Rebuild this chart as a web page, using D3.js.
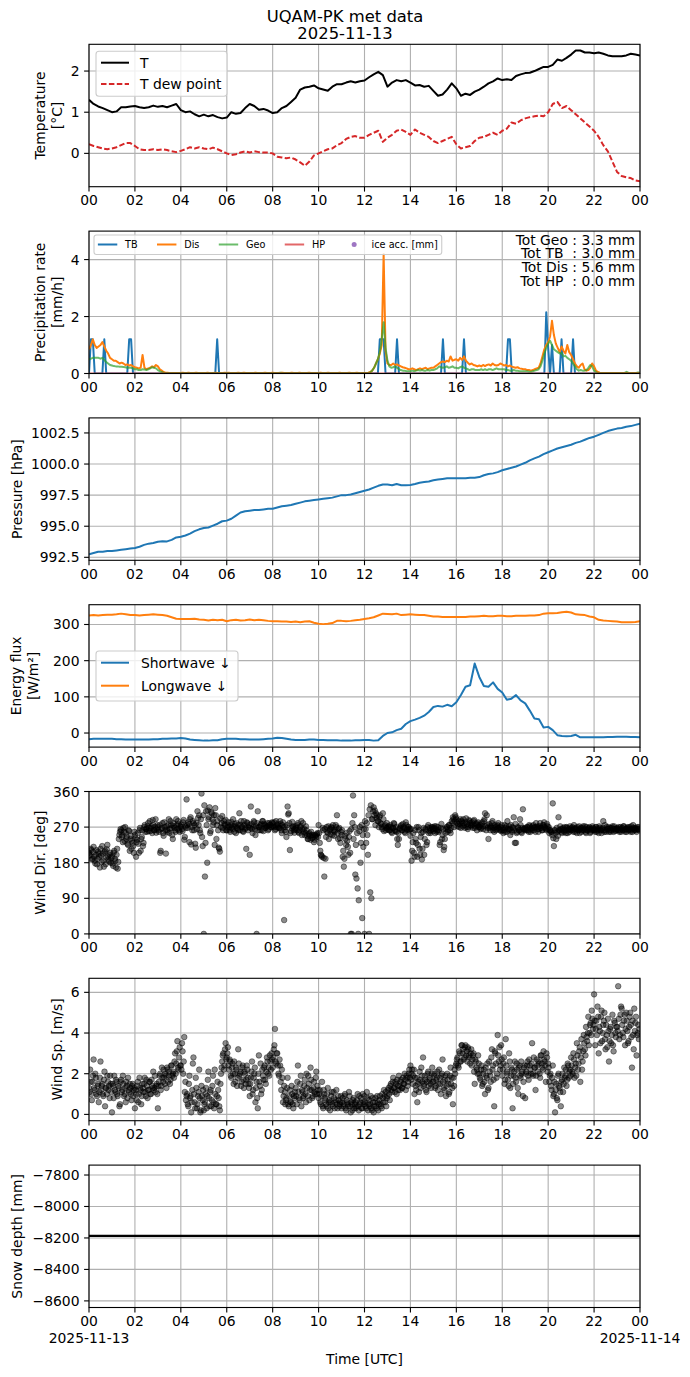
<!DOCTYPE html>
<html lang="en">
<head>
<meta charset="utf-8" />
<title>UQAM-PK met data</title>
<script src="https://cdn.jsdelivr.net/npm/d3@7"></script>
<style>
  body { margin: 0; background: white; }
  svg text { font-family: "DejaVu Sans", sans-serif; fill: black; }
</style>
</head>
<body>
<script>
// ---- data ----
// 12-minute series: temperature, dew point, pressure, radiation
var tempC = [1.30,1.20,1.14,1.10,1.05,1.00,1.02,1.12,1.12,1.14,
  1.15,1.12,1.10,1.12,1.16,1.13,1.15,1.12,1.16,1.20,
  1.05,1.00,1.02,0.95,0.90,0.94,0.90,0.93,0.88,0.85,
  0.87,1.00,0.96,0.98,1.10,1.20,1.15,1.06,1.08,1.04,
  0.98,1.00,1.10,1.15,1.25,1.35,1.55,1.60,1.62,1.65,
  1.58,1.55,1.52,1.62,1.68,1.68,1.72,1.75,1.72,1.75,
  1.77,1.85,1.92,1.98,1.90,1.62,1.72,1.78,1.75,1.78,
  1.72,1.65,1.66,1.62,1.64,1.52,1.40,1.43,1.55,1.70,
  1.58,1.40,1.45,1.42,1.50,1.55,1.62,1.70,1.75,1.82,
  1.78,1.80,1.78,1.88,1.92,1.95,1.96,2.00,2.05,2.10,
  2.10,2.15,2.28,2.25,2.32,2.40,2.50,2.50,2.45,2.45,
  2.43,2.45,2.42,2.38,2.36,2.36,2.36,2.38,2.42,2.40,2.38];
var dewC = [0.22,0.18,0.15,0.12,0.10,0.12,0.15,0.20,0.25,0.25,
  0.18,0.10,0.08,0.08,0.10,0.08,0.10,0.08,0.05,0.03,
  0.06,0.10,0.15,0.12,0.15,0.12,0.10,0.14,0.10,0.05,
  0.00,-0.04,-0.02,0.02,0.05,0.02,0.05,0.03,0.02,0.02,
  0.00,-0.08,-0.10,-0.12,-0.10,-0.15,-0.22,-0.30,-0.20,-0.05,
  0.00,0.05,0.10,0.12,0.20,0.25,0.35,0.40,0.42,0.38,
  0.38,0.45,0.50,0.55,0.28,0.38,0.45,0.55,0.58,0.52,
  0.45,0.58,0.50,0.45,0.40,0.30,0.25,0.30,0.35,0.40,
  0.22,0.12,0.15,0.18,0.30,0.38,0.40,0.45,0.50,0.45,
  0.55,0.60,0.75,0.72,0.80,0.85,0.88,0.90,0.92,0.90,
  1.00,1.20,1.25,1.10,1.15,1.05,0.95,0.85,0.75,0.65,
  0.55,0.40,0.20,0.05,-0.20,-0.45,-0.55,-0.58,-0.60,-0.66,-0.68];
var pressHpa = [992.75,992.85,992.95,992.95,993.0,993.0,993.05,993.1,993.15,993.2,
  993.25,993.35,993.5,993.6,993.65,993.75,993.8,993.78,993.9,994.1,
  994.15,994.25,994.4,994.6,994.75,994.85,994.9,995.05,995.2,995.4,
  995.45,995.6,995.85,996.1,996.2,996.25,996.3,996.3,996.35,996.4,
  996.4,996.5,996.6,996.65,996.7,996.8,996.9,997.0,997.05,997.1,
  997.15,997.2,997.25,997.3,997.4,997.5,997.5,997.55,997.65,997.75,
  997.85,997.95,998.1,998.25,998.35,998.35,998.3,998.4,998.3,998.3,
  998.32,998.4,998.5,998.55,998.6,998.7,998.75,998.8,998.85,998.85,
  998.85,998.85,998.85,998.9,998.9,998.95,999.1,999.2,999.25,999.35,
  999.5,999.6,999.7,999.8,999.95,1000.1,1000.3,1000.45,1000.6,1000.8,
  1000.95,1001.1,1001.25,1001.35,1001.45,1001.55,1001.7,1001.8,1001.95,1002.1,
  1002.2,1002.35,1002.5,1002.65,1002.75,1002.85,1002.9,1003.0,1003.05,1003.15,1003.25];
var swDown = [-17,-16,-16,-16,-16,-16,-17,-17,-18,-18,
  -18,-18,-18,-18,-17,-17,-16,-16,-15,-15,
  -14,-15,-18,-19,-20,-21,-21,-20,-20,-17,
  -16,-16,-16,-17,-17,-18,-18,-18,-17,-16,
  -15,-13,-14,-16,-18,-19,-19,-19,-18,-18,
  -19,-19,-20,-20,-20,-21,-21,-21,-20,-20,
  -19,-19,-21,-20,-8,0,2,8,12,25,
  33,37,42,48,58,72,75,73,78,74,
  85,105,128,132,192,155,130,128,140,122,
  112,92,95,105,90,82,62,40,38,15,
  17,8,-6,-8,-9,-8,-5,-12,-12,-12,
  -12,-12,-12,-11,-11,-10,-10,-10,-11,-11,-12];
var lwDown = [325,326,325,326,327,327,328,330,328,326,
  326,325,326,327,328,327,326,324,320,316,
  315,315,315,316,314,313,311,313,312,313,
  309,312,313,311,312,314,312,313,312,310,
  309,309,308,308,307,308,306,308,309,305,
  302,301,302,304,310,310,309,310,312,313,
  315,317,320,325,330,329,328,330,326,327,
  328,327,326,326,324,322,322,321,321,321,
  321,321,321,322,322,323,324,323,323,324,
  324,323,323,324,324,324,325,325,326,330,
  331,331,332,334,335,333,328,327,326,322,
  320,313,311,310,309,308,306,306,306,307,309];

// 5-minute precipitation rates [mm/h]
var tbRate = [0,1.2,1.2,0,0,0,0,0,1.2,0,0,0,
  0,0,0,0,0,0,0,0,0,1.2,1.2,0,
  0,0,0,0,0,0,0,0,0,0,0,0,
  0,0,0,0,0,0,0,0,0,0,0,0,
  0,0,0,0,0,0,0,0,0,0,0,0,
  0,0,0,0,0,0,0,1.2,0,0,0,0,
  0,0,0,0,0,0,0,0,0,0,0,0,
  0,0,0,0,0,0,0,0,0,0,0,0,
  0,0,0,0,0,0,0,0,0,0,0,0,
  0,0,0,0,0,0,0,0,0,0,0,0,
  0,0,0,0,0,0,0,0,0,0,0,0,
  0,0,0,0,0,0,0,0,0,0,0,0,
  0,0,0,0,0,0,0,0,1.2,1.2,1.2,0,
  0,0,0,0,0,1.2,0,0,0,0,0,0,
  0,0,0,0,0,0,0,0,0,0,0,0,
  0,0,0,0,0,1.2,0,0,0,0,0,0,
  0,0,0,0,1.2,0,0,0,0,0,0,0,
  0,0,0,0,0,0,0,0,0,0,0,0,
  0,0,0,1.2,1.2,0,0,0,0,0,0,0,
  0,0,0,0,0,0,0,0,0,0,0,2.15,
  0.9,0,1.0,0,0,0,0,1.2,0,0,0,0,
  0,1.2,0,0,0,0,0,0,0,0,0,0,
  0,0,0,0,0,0,0,0,0,0,0,0,
  0,0,0,0,0,0,0,0,0,0,0,0,0];
var disRate = [.85,1.0,1.2,1.0,.9,.95,1.0,1.1,.95,.8,.7,.55,
  .5,.45,.45,.4,.35,.38,.35,.3,.32,.28,.3,.25,
  .22,.2,.18,.2,.65,.2,.15,.18,.2,.25,.22,.3,
  .25,.15,.1,.05,.03,.03,.02,.02,.02,.02,.02,.02,
  .02,.03,.02,.02,.03,.02,.02,.02,.03,.02,.02,.02,
  .02,.02,.03,.02,.02,.02,.03,.02,.02,.02,.02,.03,
  .02,.03,.02,.02,.02,.02,.03,.02,.02,.03,.02,.02,
  .02,.02,.02,.03,.02,.02,.02,.02,.03,.02,.02,.02,
  .03,.02,.02,.02,.02,.03,.02,.02,.02,.02,.03,.02,
  .02,.02,.03,.02,.02,.02,.02,.03,.02,.02,.02,.02,
  .02,.03,.02,.02,.02,.03,.02,.02,.02,.02,.02,.03,
  .02,.02,.02,.02,.03,.02,.02,.02,.03,.02,.02,.02,
  .02,.02,.03,.05,.1,.2,.35,.5,.7,1.0,4.2,.8,
  .35,.3,.3,.35,.3,.32,.28,.25,.22,.2,.18,.15,
  .15,.18,.15,.12,.15,.18,.15,.18,.2,.15,.18,.2,
  .2,.25,.3,.35,.4,.42,.4,.45,.42,.6,.45,.48,
  .5,.45,.55,.48,.6,.45,.38,.32,.35,.3,.28,.25,
  .28,.25,.3,.26,.3,.32,.28,.35,.3,.28,.3,.35,
  .32,.28,.3,.25,.28,.24,.22,.2,.22,.18,.17,.15,
  .15,.12,.12,.1,.12,.15,.18,.2,.35,.6,.85,1.0,
  1.1,1.3,1.85,1.35,1.05,.9,.75,.95,.8,.7,1.0,.75,
  .65,.5,.35,.25,.2,.3,.35,.15,.1,.12,.2,.35,
  .25,.1,.05,.03,.02,.02,.02,.02,.02,.02,.02,.02,
  .02,.02,.02,.02,.02,.02,.02,.02,.02,.02,.02,.02,.02];
var geoRate = [.5,.52,.55,.55,.55,.55,.52,.55,.48,.4,.35,.3,
  .28,.26,.25,.25,.24,.24,.23,.22,.2,.2,.2,.18,
  .15,.15,.12,.12,.15,.14,.12,.15,.18,.22,.2,.18,
  .12,.08,.05,.03,.02,.02,.02,.02,.02,.02,.02,.02,
  .02,.02,.02,.02,.02,.02,.02,.02,.02,.02,.02,.02,
  .02,.02,.02,.02,.02,.02,.02,.02,.02,.02,.02,.02,
  .02,.02,.02,.02,.02,.02,.02,.02,.02,.02,.02,.02,
  .02,.02,.02,.02,.02,.02,.02,.02,.02,.02,.02,.02,
  .02,.02,.02,.02,.03,.02,.02,.02,.02,.02,.02,.02,
  .02,.02,.02,.02,.02,.02,.02,.02,.02,.02,.02,.02,
  .02,.02,.02,.02,.02,.02,.02,.02,.02,.02,.02,.02,
  .02,.02,.02,.02,.02,.02,.02,.02,.02,.02,.02,.02,
  .02,.02,.02,.04,.1,.2,.35,.5,.75,1.2,1.8,.9,
  .45,.25,.2,.22,.25,.2,.15,.12,.1,.1,.08,.08,
  .08,.1,.08,.1,.12,.1,.12,.1,.1,.12,.1,.12,
  .12,.15,.18,.25,.22,.2,.22,.25,.2,.22,.25,.2,
  .2,.18,.22,.25,.2,.18,.15,.12,.15,.15,.12,.12,
  .12,.15,.12,.15,.12,.15,.15,.12,.15,.18,.15,.15,
  .15,.15,.12,.12,.1,.1,.12,.1,.1,.08,.08,.08,
  .08,.08,.06,.06,.08,.1,.12,.15,.25,.45,.7,.9,
  1.05,1.15,1.0,.85,.8,.75,.7,.72,.6,.62,.55,.5,
  .45,.35,.25,.15,.1,.12,.1,.1,.12,.2,.3,.25,
  .1,.05,.02,.02,.02,.02,.02,.02,.02,.02,.02,.02,
  .02,.02,.02,.02,.02,.06,.02,.02,.02,.02,.02,.04,.02];
var hpHours = [0, 24];
var hpRate = [0, 0];
var precipTotals = ["Tot Geo : 3.3 mm", "Tot TB  : 3.0 mm", "Tot Dis : 5.6 mm", "Tot HP  : 0.0 mm"];

// wind observations, 3-minute samples on the hour grid ...
var windDir = [205,198,212,190,220,185,200,176,208,195,215,182,203,170,210,193,225,188,200,180,
  196,172,210,185,200,165,240,258,262,250,268,235,255,245,225,260,240,215,230,205,
  250,195,238,228,262,210,245,222,270,258,265,272,260,285,268,255,275,262,290,265,
  270,258,205,265,280,248,270,203,262,275,255,285,268,240,272,262,290,266,278,258,
  270,265,282,238,272,340,268,278,290,226,262,280,275,218,265,293,300,255,355,222,
  0,145,310,180,290,320,260,305,275,300,318,240,285,218,208,270,298,262,278,288,
  262,275,270,258,283,265,272,278,255,268,262,305,276,270,260,285,265,215,280,270,
  200,322,265,270,282,250,0,310,270,262,278,285,260,275,268,272,262,280,275,270,
  280,270,262,285,275,270,268,278,255,282,35,270,245,322,305,212,260,283,270,256,
  272,262,280,255,270,285,265,258,250,272,248,240,255,238,250,245,232,250,244,255,
  275,230,200,195,262,145,190,270,255,240,265,270,250,262,258,275,300,240,268,230,
  250,195,170,248,225,235,200,260,0,0,350,300,150,140,115,85,270,230,40,220,
  0,265,280,200,0,105,90,290,320,312,305,300,285,295,280,270,305,260,275,268,
  265,272,262,270,255,268,278,260,258,225,240,268,275,262,270,258,282,265,270,262,
  248,185,232,205,262,230,195,270,215,245,188,258,200,265,225,270,255,268,262,270,
  260,272,265,258,270,262,232,278,250,212,240,265,270,262,275,255,285,295,270,300,
  290,272,285,278,268,282,290,275,283,270,265,288,280,272,276,285,268,278,262,282,
  270,265,278,272,285,305,262,275,240,268,272,280,262,258,270,265,275,268,262,260,
  262,255,275,268,258,265,272,250,262,270,295,230,230,258,268,262,275,255,315,265,
  268,262,270,258,272,265,262,275,268,258,270,272,265,280,268,262,275,270,265,278,
  265,255,262,258,330,222,262,240,258,295,262,265,255,268,258,262,270,255,265,272,
  262,270,258,265,268,255,262,272,265,258,268,262,272,255,262,265,270,258,262,268,
  265,258,270,262,255,268,262,265,285,258,262,270,265,258,268,262,272,258,265,262,
  268,262,258,270,265,262,272,258,265,268,262,270,258,265,275,262,268,258,265,270];
var windSpd = [1.3,2.2,1.0,1.6,2.7,1.2,1.8,0.9,1.5,1.1,2.6,1.4,1.0,1.7,0.4,1.3,1.9,1.2,0.8,1.5,
  0.1,1.4,1.9,1.1,1.6,0.9,1.3,0.5,1.7,1.2,1.5,1.0,0.6,1.4,1.8,1.1,1.3,0.7,1.5,1.2,
  0.3,1.0,1.4,0.6,1.8,1.2,0.9,1.3,1.5,1.1,1.7,0.8,1.2,1.6,1.0,1.4,2.1,1.3,1.1,1.5,
  0.3,1.6,2.0,1.4,1.8,2.2,1.5,1.9,2.3,1.6,2.1,1.7,2.4,2.0,1.8,3.0,2.5,3.6,2.2,3.3,
  2.4,3.5,2.0,3.8,1.6,0.9,0.5,1.5,0.8,0.1,1.2,2.8,0.6,1.8,0.3,0.9,2.2,0.1,1.4,0.7,
  0.2,0.6,1.3,0.9,2.1,0.4,1.2,0.7,1.9,0.3,1.0,0.5,1.6,0.8,0.2,2.0,2.6,3.0,2.4,3.5,
  2.8,3.3,2.2,2.6,1.8,2.5,1.5,2.0,2.3,1.4,3.2,1.9,2.1,1.6,2.4,1.3,2.0,1.7,2.2,1.5,
  0.9,1.8,2.6,1.2,2.0,0.6,1.6,0.3,2.9,1.4,1.0,2.2,1.7,2.4,1.5,2.8,2.0,1.9,2.6,3.0,
  2.3,3.2,4.2,2.5,3.0,2.0,2.7,1.6,2.2,0.6,1.4,0.5,0.8,1.8,0.4,1.2,0.6,1.0,0.3,0.8,
  1.3,0.5,2.4,0.8,1.5,0.4,1.1,0.9,1.7,0.6,1.3,1.9,0.7,2.3,1.2,0.9,1.6,1.0,2.1,1.4,
  0.8,1.2,0.5,1.6,0.3,1.0,0.7,0.4,1.3,0.6,0.2,0.9,0.5,1.1,0.3,0.7,0.5,0.9,0.4,0.6,
  0.3,0.8,0.5,1.0,0.2,0.6,0.4,0.9,0.1,0.5,0.7,0.3,0.6,0.4,1.0,0.2,0.5,0.8,0.3,0.6,
  0.9,0.4,1.1,0.2,0.7,0.5,0.3,0.8,0.1,0.6,0.4,0.9,0.2,0.7,0.5,0.3,0.8,1.2,0.6,0.4,
  0.9,1.3,0.7,1.5,1.1,1.8,1.3,1.6,1.0,1.4,1.9,1.2,1.7,1.3,1.5,2.0,1.2,1.8,1.6,2.2,
  2.4,2.0,1.5,2.2,1.8,1.2,0.6,1.6,2.1,1.3,1.9,2.8,1.5,1.7,1.1,2.0,1.4,1.8,1.3,2.3,
  1.6,2.0,1.4,1.8,1.2,2.2,1.5,1.9,2.7,1.3,1.7,0.9,2.0,1.5,1.1,2.3,1.8,0.5,1.4,2.0,
  2.5,2.8,2.3,3.0,2.6,3.4,3.2,2.8,3.4,3.1,3.3,2.9,2.5,3.2,2.7,3.0,1.5,2.6,2.2,2.9,
  2.0,1.7,2.4,1.5,2.2,1.0,1.9,2.5,1.3,2.1,1.6,3.2,2.4,0.4,3.0,1.8,3.9,2.6,2.2,3.4,
  1.9,2.5,1.5,3.7,2.1,1.7,3.0,1.3,2.3,0.3,1.9,2.6,1.6,2.2,1.0,2.4,1.8,2.0,0.9,2.3,
  0.8,2.1,2.6,1.7,2.4,2.0,3.5,1.9,2.3,1.2,2.7,2.1,2.5,1.8,2.9,2.3,3.1,2.6,1.6,2.8,
  2.5,1.6,2.0,1.2,2.4,1.0,0.1,1.5,0.7,2.0,1.3,0.4,1.7,1.1,2.3,1.9,1.4,2.5,1.8,2.2,
  2.8,2.1,3.0,1.8,2.5,3.5,2.2,3.1,1.6,3.7,2.6,3.9,3.2,4.3,3.6,4.8,4.0,4.5,5.1,4.2,
  5.9,3.4,4.6,5.3,3.0,4.1,4.8,3.6,4.4,5.0,3.2,3.9,4.7,2.6,4.2,3.5,4.9,3.1,4.5,3.8,
  4.3,6.3,3.7,4.9,5.2,4.0,4.6,3.4,5.0,4.1,3.6,4.8,4.4,2.3,3.9,5.2,4.5,2.9,4.0,3.7];
// ... and the samples in between (1.5 minutes later)
var windDirMid = [200,215,188,207,195,178,212,190,203,168,198,222,185,207,176,214,196,183,205,192,
  178,205,190,168,215,182,250,265,245,232,258,270,240,228,262,210,248,236,222,258,
  242,232,255,205,268,240,262,230,275,265,258,280,268,260,272,288,262,270,256,275,
  262,275,210,268,255,282,262,272,258,290,266,275,250,280,268,258,275,285,262,272,
  276,260,288,245,268,275,282,232,295,270,285,262,228,280,310,275,262,290,245,300,
  325,230,275,312,295,255,308,290,282,225,300,275,262,215,292,280,268,285,275,262,
  270,282,262,275,268,290,258,272,280,265,276,262,285,270,258,275,268,282,262,275,
  268,278,255,285,265,272,280,262,270,275,262,285,278,268,272,280,265,276,270,282,
  272,282,265,270,278,268,285,262,275,270,262,258,275,302,280,255,268,272,262,265,
  268,275,258,262,272,250,280,265,255,262,240,252,248,258,242,250,238,248,252,245,
  255,210,198,268,192,265,245,258,272,262,252,268,275,248,262,270,255,265,242,258,
  262,210,190,240,255,220,245,205,265,280,240,270,225,255,0,260,180,275,250,265,
  285,230,250,300,315,325,290,310,300,275,292,285,270,300,278,265,290,272,262,280,
  270,262,275,258,268,280,262,270,240,255,265,272,262,278,268,255,275,262,270,265,
  265,210,255,195,240,270,225,262,200,255,215,268,240,262,232,275,260,255,270,265,
  268,255,272,262,258,225,268,240,265,220,255,270,258,275,262,268,280,290,285,295,
  282,278,270,290,285,272,280,268,292,278,270,285,275,282,268,288,272,280,275,270,
  275,268,282,265,290,272,300,268,278,262,270,285,268,275,262,272,280,265,270,275,
  268,262,258,272,285,262,265,275,258,268,262,278,255,270,262,290,258,268,265,262,
  265,270,262,275,258,268,272,262,270,280,265,258,272,268,262,275,282,268,262,272,
  270,262,258,250,242,262,255,268,248,262,272,258,265,262,270,255,268,262,258,265,
  268,262,275,258,265,270,262,255,268,262,272,265,258,270,262,268,255,265,272,262,
  262,270,258,265,272,262,255,268,262,275,258,265,270,262,258,268,265,272,260,266,
  265,270,262,258,268,272,262,265,258,270,265,262,272,258,268,265,262,270,265,262];
var windSpdMid = [1.1,1.6,0.7,1.9,1.3,2.0,1.0,1.4,0.6,1.8,1.2,1.5,0.9,2.1,1.3,1.0,1.6,1.4,1.9,1.1,
  1.5,0.8,1.2,1.7,1.0,1.4,0.4,1.6,1.1,1.9,0.9,1.3,1.6,0.8,1.2,1.5,1.0,1.4,0.9,1.3,
  1.2,0.7,1.6,1.0,1.3,0.5,1.5,1.1,1.8,0.9,1.4,1.2,1.6,1.0,1.7,1.3,1.2,1.9,1.4,1.0,
  1.4,1.9,1.2,2.3,1.6,1.8,2.0,1.3,2.2,1.9,1.5,2.4,1.9,2.1,2.6,2.0,3.1,2.3,2.8,2.4,
  2.2,3.1,2.6,1.1,0.7,1.0,0.4,1.9,0.9,0.6,2.5,1.0,0.3,1.3,0.5,1.1,0.8,0.2,0.9,1.2,
  0.5,1.0,0.3,1.7,0.8,1.1,0.4,1.4,0.6,2.2,0.5,0.9,1.2,0.4,1.5,2.3,2.9,2.2,3.2,2.7,
  3.0,2.4,2.7,1.9,2.3,2.0,2.6,1.6,2.2,1.8,2.5,2.0,1.4,2.3,1.7,2.1,1.5,2.4,1.8,1.3,
  1.5,2.1,1.0,1.8,2.3,1.3,0.8,2.0,1.6,2.5,1.2,1.9,2.3,1.7,2.1,2.6,2.3,2.9,2.2,2.7,
  2.8,3.4,2.6,3.0,2.4,1.9,2.4,1.2,1.8,0.9,1.1,0.7,1.3,0.5,0.9,0.6,1.4,0.5,0.9,1.1,
  0.9,1.6,1.1,0.7,1.9,1.2,0.8,1.4,1.0,2.0,0.9,1.5,1.2,1.7,0.8,1.3,1.1,1.8,1.0,1.2,
  1.0,0.6,0.9,0.4,1.2,0.8,0.5,1.0,0.3,0.7,0.6,1.1,0.4,0.8,0.6,1.2,0.3,0.7,0.5,0.9,
  0.6,0.4,0.9,0.3,0.7,0.5,1.1,0.4,0.6,0.2,0.8,0.5,0.3,0.7,0.4,0.9,0.6,0.3,1.0,0.5,
  0.6,0.3,0.8,0.5,0.4,0.9,0.2,0.6,0.4,0.8,0.3,0.6,0.5,0.9,0.4,1.0,0.6,0.9,1.1,0.8,
  1.2,1.0,1.4,1.2,1.6,1.3,1.1,1.5,1.7,1.2,1.4,1.6,1.3,1.8,1.5,1.7,1.9,1.4,2.0,1.8,
  1.7,2.2,1.9,1.0,1.4,1.8,1.5,1.1,1.7,2.3,1.6,1.4,1.9,1.2,1.6,2.1,1.7,1.5,2.0,1.6,
  1.9,1.3,1.7,2.1,1.5,1.8,1.0,2.0,1.6,1.2,1.9,1.4,1.7,1.0,1.9,1.5,1.3,1.8,2.2,2.4,
  2.7,2.4,3.1,2.6,3.4,3.0,2.7,3.3,2.9,2.6,3.2,2.8,3.0,2.4,2.9,2.1,2.7,2.3,2.0,2.5,
  1.8,2.2,1.4,2.0,1.6,2.3,1.8,1.2,2.6,1.9,2.8,2.2,1.7,3.1,2.5,2.0,2.9,3.3,2.4,2.7,
  2.2,2.8,1.7,2.4,2.0,1.4,2.6,1.9,2.2,1.5,2.1,1.8,2.5,1.3,2.3,1.9,2.6,2.1,1.6,2.4,
  2.0,2.4,1.9,2.7,2.2,2.5,2.0,2.8,2.3,1.9,2.4,2.6,2.0,2.9,2.5,2.2,2.7,2.4,3.0,2.1,
  2.3,1.9,1.4,1.8,0.9,1.6,1.2,0.8,1.9,1.4,1.1,1.6,2.0,1.5,1.8,2.2,1.7,2.4,2.1,1.9,
  2.4,2.0,2.7,2.3,1.9,2.9,2.5,3.3,2.8,2.2,3.1,3.5,2.9,3.8,4.0,3.4,4.4,3.9,4.7,4.4,
  4.6,4.2,3.9,4.8,4.3,3.5,5.1,4.0,4.6,3.7,4.4,3.3,4.1,3.6,4.3,3.9,3.4,4.6,4.0,4.3,
  4.1,4.7,3.9,5.3,4.4,3.8,4.9,4.2,4.6,3.5,4.3,5.0,3.8,4.6,3.2,4.1,4.8,3.9,4.4,4.2];

var snowHours = [0, 24];
var snowDepth = [-8187, -8187];

// tick values
var xTickHours = [0, 2, 4, 6, 8, 10, 12, 14, 16, 18, 20, 22, 24];
var tempTicks = [0, 1, 2];
var precipTicks = [0, 2, 4];
var pressTicks = [992.5, 995.0, 997.5, 1000.0, 1002.5];
var fluxTicks = [0, 100, 200, 300];
var dirTicks = [0, 90, 180, 270, 360];
var spdTicks = [0, 2, 4, 6];
var snowTicks = [-8600, -8400, -8200, -8000, -7800];

// time axes for the sampled series
var t12min = tempC.map(function(d, i) { return i * 0.2; });
var t5min = tbRate.map(function(d, i) { return i / 12; });
var t3min = windDir.map(function(d, i) { return i * 0.05; });
var t3minMid = windDirMid.map(function(d, i) { return i * 0.05 + 0.025; });

// ---- layout ----
var w = 690;
var h = 1377;
var pad = { left: 89, right: 640 };
var panelTop0 = 44.3;
var panelStep = 186.8;
var panelH = 142.4;
var tickFont = "13.9px";
var C = { blue: "#1f77b4", orange: "#ff7f0e", green: "#2ca02c", red: "#d62728", purple: "#9467bd" };

var svg = d3.select("body")
            .append("svg")
            .attr("width", w)
            .attr("height", h);
svg.append("rect").attr("width", w).attr("height", h).attr("fill", "white");

var x = d3.scaleLinear().domain([0, 24]).range([pad.left, pad.right]);

function hourLabel(v) {
  var hh = v % 24;
  return (hh < 10 ? "0" : "") + hh;
}

function makePanel(i, domain, ticks, fmt, labelLines, labelX) {
  var top = panelTop0 + i * panelStep;
  var bottom = top + panelH;
  var y = d3.scaleLinear().domain(domain).range([bottom, top]);
  var g = svg.append("g");

  // grid
  g.append("g").selectAll("line")
   .data(xTickHours).enter().append("line")
   .attr("x1", function(d) { return x(d); }).attr("x2", function(d) { return x(d); })
   .attr("y1", top).attr("y2", bottom)
   .attr("stroke", "#b0b0b0").attr("stroke-width", 1.1);
  g.append("g").selectAll("line")
   .data(ticks).enter().append("line")
   .attr("x1", pad.left).attr("x2", pad.right)
   .attr("y1", function(d) { return y(d); }).attr("y2", function(d) { return y(d); })
   .attr("stroke", "#b0b0b0").attr("stroke-width", 1.1);

  var clipId = "clip" + i;
  svg.append("clipPath").attr("id", clipId)
     .append("rect").attr("x", pad.left).attr("y", top)
     .attr("width", pad.right - pad.left).attr("height", panelH);
  var plot = g.append("g").attr("clip-path", "url(#" + clipId + ")");

  // ticks
  g.append("g").selectAll("line")
   .data(xTickHours).enter().append("line")
   .attr("x1", function(d) { return x(d); }).attr("x2", function(d) { return x(d); })
   .attr("y1", bottom).attr("y2", bottom + 4.9)
   .attr("stroke", "black").attr("stroke-width", 1.1);
  g.append("g").selectAll("text")
   .data(xTickHours).enter().append("text")
   .attr("x", function(d) { return x(d); })
   .attr("y", bottom + 18.5)
   .attr("text-anchor", "middle")
   .attr("font-size", tickFont)
   .text(hourLabel);
  g.append("g").selectAll("line")
   .data(ticks).enter().append("line")
   .attr("x1", pad.left - 4.9).attr("x2", pad.left)
   .attr("y1", function(d) { return y(d); }).attr("y2", function(d) { return y(d); })
   .attr("stroke", "black").attr("stroke-width", 1.1);
  g.append("g").selectAll("text")
   .data(ticks).enter().append("text")
   .attr("x", pad.left - 9.5)
   .attr("y", function(d) { return y(d); })
   .attr("dy", "0.36em")
   .attr("text-anchor", "end")
   .attr("font-size", tickFont)
   .text(function(d) { return fmt(d).replace("-", "\u2212"); });

  // y label (rotated, possibly two lines)
  var lab = g.append("text")
             .attr("transform", "translate(" + labelX + "," + (top + panelH / 2) + ") rotate(-90)")
             .attr("text-anchor", "middle")
             .attr("font-size", tickFont);
  labelLines.forEach(function(s, k) {
    lab.append("tspan").attr("x", 0).attr("y", k * 17).attr("dy", "0.36em").text(s);
  });

  return { g: g, plot: plot, y: y, top: top, bottom: bottom };
}

function addFrame(p) {
  p.g.append("rect")
     .attr("x", pad.left).attr("y", p.top)
     .attr("width", pad.right - pad.left).attr("height", panelH)
     .attr("fill", "none").attr("stroke", "black").attr("stroke-width", 1.1);
}

function drawLine(p, xs, ys, color, width, dash, opacity) {
  var line = d3.line()
               .x(function(d, i) { return x(xs[i]); })
               .y(function(d) { return p.y(d); });
  p.plot.append("path")
        .datum(ys)
        .attr("d", line)
        .attr("fill", "none")
        .attr("stroke", color)
        .attr("stroke-width", width)
        .attr("stroke-opacity", opacity || 1)
        .attr("stroke-linejoin", "round")
        .attr("stroke-dasharray", dash || null);
}

function drawScatter(p, xs, ys) {
  p.plot.append("g").selectAll("circle")
        .data(ys).enter().append("circle")
        .attr("cx", function(d, i) { return x(xs[i]); })
        .attr("cy", function(d) { return p.y(d); })
        .attr("r", 2.8)
        .attr("fill", "black").attr("fill-opacity", 0.45)
        .attr("stroke", "black").attr("stroke-opacity", 0.5).attr("stroke-width", 0.8);
}

function legendBox(p, bx, by, bw, bh) {
  p.g.append("rect")
     .attr("x", bx).attr("y", by).attr("width", bw).attr("height", bh)
     .attr("rx", 3)
     .attr("fill", "white").attr("fill-opacity", 0.8)
     .attr("stroke", "#cccccc").attr("stroke-width", 1.1);
}

var fmtInt = d3.format("d");
var fmt1 = d3.format(".1f");

// ---- title ----
svg.append("text").attr("x", 345).attr("y", 22).attr("text-anchor", "middle")
   .attr("font-size", "16.4px").text("UQAM-PK met data");
svg.append("text").attr("x", 345).attr("y", 39).attr("text-anchor", "middle")
   .attr("font-size", "16.4px").text("2025-11-13");

// ---- panel 1: temperature ----
var p1 = makePanel(0, [-0.81, 2.65], tempTicks, fmtInt, ["Temperature", "[\u00b0C]"], 40);
drawLine(p1, t12min, tempC, "black", 2);
drawLine(p1, t12min, dewC, C.red, 2, "5.5,2.4");
legendBox(p1, 96, 51.3, 131, 45);
p1.g.append("line").attr("x1", 101).attr("x2", 129).attr("y1", 62.7).attr("y2", 62.7)
    .attr("stroke", "black").attr("stroke-width", 2);
p1.g.append("line").attr("x1", 101).attr("x2", 129).attr("y1", 84).attr("y2", 84)
    .attr("stroke", C.red).attr("stroke-width", 2).attr("stroke-dasharray", "5.5,2.4");
p1.g.append("text").attr("x", 140).attr("y", 62.7).attr("dy", "0.36em").attr("font-size", tickFont).text("T");
p1.g.append("text").attr("x", 140).attr("y", 84).attr("dy", "0.36em").attr("font-size", tickFont).text("T dew point");
addFrame(p1);

// ---- panel 2: precipitation ----
var p2 = makePanel(1, [0, 5], precipTicks, fmtInt, ["Precipitation rate", "[mm/h]"], 40);
drawLine(p2, t5min, tbRate, C.blue, 2);
drawLine(p2, t5min, disRate, C.orange, 2);
drawLine(p2, t5min, geoRate, C.green, 2, null, 0.7);
drawLine(p2, hpHours, hpRate, C.red, 2, null, 0.7);

var legItems = [
  { name: "TB", color: C.blue, op: 1, kind: "line" },
  { name: "Dis", color: C.orange, op: 1, kind: "line" },
  { name: "Geo", color: C.green, op: 0.7, kind: "line" },
  { name: "HP", color: C.red, op: 0.7, kind: "line" },
  { name: "ice acc. [mm]", color: C.purple, op: 0.9, kind: "dot" }
];
var lfs = 9.7;
var lbox = p2.g.append("g");
var lx = 94 + 0.4 * lfs;
var ly = 244.5;
var lrect = lbox.append("rect");
legItems.forEach(function(it) {
  if (it.kind === "line") {
    lbox.append("line").attr("x1", lx).attr("x2", lx + 2 * lfs).attr("y1", ly).attr("y2", ly)
        .attr("stroke", it.color).attr("stroke-opacity", it.op).attr("stroke-width", 2);
  } else {
    lbox.append("circle").attr("cx", lx + lfs).attr("cy", ly).attr("r", 2.5)
        .attr("fill", it.color).attr("fill-opacity", it.op);
  }
  var tx = lx + 2.8 * lfs;
  var t = lbox.append("text").attr("x", tx).attr("y", ly).attr("dy", "0.36em")
              .attr("font-size", lfs + "px").text(it.name);
  lx = tx + t.node().getComputedTextLength() + 2 * lfs;
});
lrect.attr("x", 94).attr("y", 235).attr("width", lx - 2 * lfs + 0.4 * lfs - 94).attr("height", 19.5)
     .attr("rx", 2.5).attr("fill", "white").attr("fill-opacity", 0.8)
     .attr("stroke", "#cccccc").attr("stroke-width", 1.1);

// totals block, spaces kept as non-breaking so the double spaces survive
p2.g.append("g").selectAll("text")
    .data(precipTotals).enter().append("text")
    .attr("x", 635)
    .attr("y", function(d, i) { return 244.6 + i * 13.8; })
    .attr("text-anchor", "end")
    .attr("font-size", "13.9px")
    .text(function(d) { return d.replace(/ /g, "\u00a0"); });
addFrame(p2);

// ---- panel 3: pressure ----
var p3 = makePanel(2, [992.26, 1003.71], pressTicks, fmt1, ["Pressure [hPa]"], 17);
drawLine(p3, t12min, pressHpa, C.blue, 2);
addFrame(p3);

// ---- panel 4: radiation ----
var p4 = makePanel(3, [-38.9, 354.7], fluxTicks, fmtInt, ["Energy flux", "[W/m\u00b2]"], 16);
drawLine(p4, t12min, swDown, C.blue, 2);
drawLine(p4, t12min, lwDown, C.orange, 2);
legendBox(p4, 96, 651, 142, 50);
[["Shortwave \u2193", C.blue, 662.7], ["Longwave \u2193", C.orange, 685.7]].forEach(function(r) {
  p4.g.append("line").attr("x1", 101).attr("x2", 129).attr("y1", r[2]).attr("y2", r[2])
      .attr("stroke", r[1]).attr("stroke-width", 2);
  p4.g.append("text").attr("x", 141).attr("y", r[2]).attr("dy", "0.36em")
      .attr("font-size", tickFont).text(r[0]);
});
addFrame(p4);

// ---- panel 5: wind direction ----
var p5 = makePanel(4, [0, 360], dirTicks, fmtInt, ["Wind Dir. [deg]"], 40);
drawScatter(p5, t3min, windDir);
drawScatter(p5, t3minMid, windDirMid);
addFrame(p5);

// ---- panel 6: wind speed ----
var p6 = makePanel(5, [-0.31, 6.69], spdTicks, fmtInt, ["Wind Sp. [m/s]"], 57);
drawScatter(p6, t3min, windSpd);
drawScatter(p6, t3minMid, windSpdMid);
addFrame(p6);

// ---- panel 7: snow depth ----
var p7 = makePanel(6, [-8642, -7737], snowTicks, fmtInt, ["Snow depth [mm]"], 17);
drawLine(p7, snowHours, snowDepth, "black", 2.2);
addFrame(p7);

svg.append("text").attr("x", x(0)).attr("y", p7.bottom + 35.5).attr("text-anchor", "middle")
   .attr("font-size", tickFont).text("2025-11-13");
svg.append("text").attr("x", x(24)).attr("y", p7.bottom + 35.5).attr("text-anchor", "middle")
   .attr("font-size", tickFont).text("2025-11-14");
svg.append("text").attr("x", (pad.left + pad.right) / 2).attr("y", p7.bottom + 56)
   .attr("text-anchor", "middle").attr("font-size", tickFont).text("Time [UTC]");
</script>
</body>
</html>
